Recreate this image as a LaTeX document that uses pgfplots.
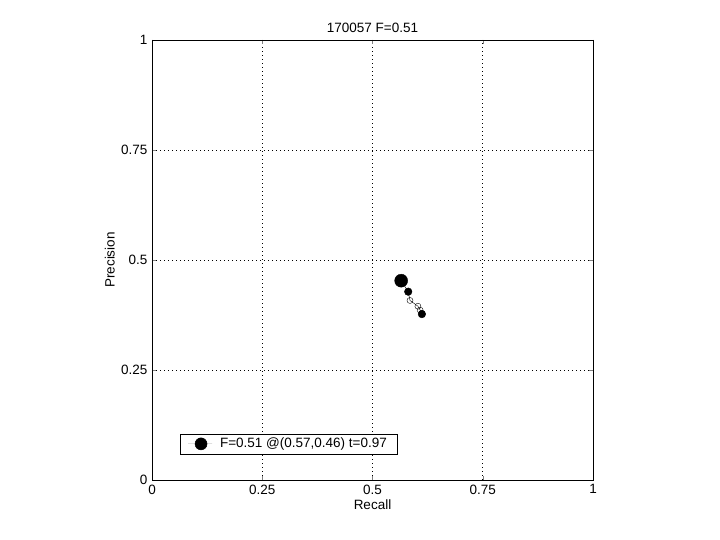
\documentclass[border=0pt]{standalone}
\usepackage{pgfplots}
\pgfplotsset{compat=1.18}
\usepackage{fontspec}
\setmainfont{Liberation Sans}
\begin{document}
\fontsize{13.5bp}{15bp}\selectfont
\begin{tikzpicture}
\path[use as bounding box] (0,0) rectangle (720bp,540bp);
\begin{axis}[
  at={(152bp,60bp)}, anchor=south west,
  width=441bp, height=440bp, scale only axis,
  xmin=0, xmax=1, ymin=0, ymax=1,
  xtick={0,0.25,0.5,0.75,1}, ytick={0,0.25,0.5,0.75,1},
  xticklabels={0,0.25,0.5,0.75,1}, yticklabels={0,0.25,0.5,0.75,1},
  tick label style={font=\fontsize{13.5bp}{15bp}\selectfont},
  label style={font=\fontsize{13.5bp}{15bp}\selectfont},
  tick align=inside, tick pos=both,
  major tick length=4bp,
  grid=major, grid style={black, line width=0.6pt, dash pattern=on 1bp off 3bp},
  axis line style={line width=0.5pt},
  title={170057 F=0.51},
  title style={yshift=-3bp, font=\fontsize{13.5bp}{15bp}\selectfont},
  xlabel={Recall}, ylabel={Precision},
  xlabel style={yshift=4bp}, ylabel style={yshift=-3bp},
  legend style={at={(0.063,0.059)}, anchor=south west, draw=black,
    line width=0.5pt, inner xsep=8bp, inner ysep=2bp,
    font=\fontsize{13.5bp}{15bp}\selectfont},
  legend cell align=left,
]
\addplot[black, mark=*, mark size=6.5bp, only marks, forget plot] coordinates {(0.565,0.453)};
\addplot[black, line width=0.4pt, mark=o, mark size=3bp, forget plot] coordinates {
  (0.565,0.453) (0.581,0.428) (0.585,0.408) (0.603,0.395) (0.608,0.386) (0.612,0.379)};
\addplot[black, mark=*, mark size=3.8bp, only marks, forget plot] coordinates {
  (0.581,0.428) (0.612,0.377)};
\addplot[black, fill=black, only marks, mark=none,
  legend image code/.code={\path[draw=none] (0bp,0bp) -- (24bp,0bp); \fill[black] (13bp,0bp) circle (6bp);}] coordinates {(-1,-1)};
\addlegendentry{\hspace{6bp}F=0.51 @(0.57,0.46) t=0.97\hspace{4bp}}
\end{axis}
\end{tikzpicture}
\end{document}
